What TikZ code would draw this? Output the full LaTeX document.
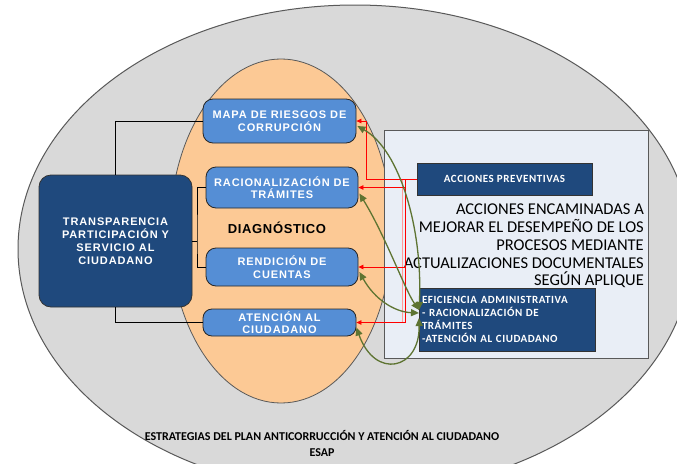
\documentclass[tikz,border=0pt]{standalone}
\usepackage{fontspec}
\setmainfont{Liberation Sans}
\newfontfamily\boxfont[LetterSpace=8]{Liberation Sans}
\newfontfamily\diagfont[LetterSpace=5]{Liberation Sans}
\newfontfamily\calibri[BoldFont={Carlito Bold}]{Carlito}
\newfontfamily\calibrisp[LetterSpace=5,BoldFont={Carlito Bold}]{Carlito}
\usetikzlibrary{arrows.meta,calc}
\definecolor{greyfill}{HTML}{D9D9D9}
\definecolor{greyline}{HTML}{595959}
\definecolor{orangefill}{HTML}{FCC995}
\definecolor{lightblue}{HTML}{558ED5}
\definecolor{darkblue}{HTML}{1F497D}
\definecolor{panel}{HTML}{E9EEF6}
\definecolor{olive}{HTML}{5E7432}
\definecolor{pinkline}{HTML}{FF9A9A}
\tikzset{
  bluebox/.style={draw=black!85, line width=0.8pt, fill=lightblue, rounded corners=10pt,
    minimum width=153pt, align=center, text=white, inner sep=0pt,
    font=\boxfont\bfseries\fontsize{11}{12.5}\selectfont},
  darkbox/.style={draw=black!80, line width=0.8pt, fill=darkblue, text=white, inner sep=0pt},
  blackline/.style={draw=black, line width=1pt},
  redarrow/.style={draw=red, line width=0.8pt, -{Triangle[length=5pt,width=4.5pt]}},
  redline/.style={draw=red, line width=0.8pt},
  greenarrow/.style={draw=olive, line width=1.3pt,
    {Triangle[length=8pt,width=7pt]}-{Triangle[length=8pt,width=7pt]}},
}
\begin{document}
\begin{tikzpicture}[x=1pt,y=-1pt]
\useasboundingbox (0,0) rectangle (677,463);
\fill[white] (0,0) rectangle (677,463);
\begin{scope}
\clip (0,0) rectangle (677,463);
\draw[fill=greyfill, draw=greyline, line width=1pt] (355,249) ellipse [x radius=337, y radius=244];
\end{scope}
\draw[fill=orangefill, draw=greyline, line width=0.8pt] (281,231) ellipse [x radius=111, y radius=172];
\draw[fill=panel, draw=greyline, line width=1pt] (384,130) rectangle (648,358);

% blue boxes
\node[bluebox, minimum height=44pt] (mapa) at (279.5,121) {MAPA DE RIESGOS DE\\CORRUPCIÓN};
\node[bluebox, minimum height=41pt, minimum width=152pt] (racion) at (282,187.5) {RACIONALIZACIÓN DE\\TRÁMITES};
\node[bluebox, minimum height=38pt, minimum width=152pt] (rend) at (282,267) {RENDICIÓN DE\\CUENTAS};
\node[bluebox, minimum height=27pt, rounded corners=9pt] (aten) at (279.5,322.5) {ATENCIÓN AL\\CIUDADANO};

\node[font=\diagfont\bfseries\fontsize{13}{15}\selectfont, inner sep=0pt] (diag) at (277,228) {DIAGNÓSTICO};

\node[darkbox, rounded corners=12pt, minimum width=153pt, minimum height=132pt, align=center,
  font=\boxfont\bfseries\fontsize{11}{13}\selectfont] (trans) at (115.5,241)
  {TRANSPARENCIA\\PARTICIPACIÓN Y\\SERVICIO AL\\CIUDADANO};

% black connectors
\coordinate (j) at (197,241);
\draw[blackline] (trans.north) |- (mapa.west);
\draw[blackline] (trans.south) |- (aten.west);
\draw[blackline] (trans.east) -- (j);
\draw[blackline] (racion.west) -| (j) |- (rend.west);

% right side
\node[darkbox, minimum width=175pt, minimum height=32pt,
  font=\calibrisp\bfseries\fontsize{11}{13}\selectfont] (prev) at (504.5,179) {ACCIONES PREVENTIVAS};

\node[anchor=north east, inner sep=0pt, align=right,
  font=\calibri\fontsize{16.5}{17.7}\selectfont] (txt) at (644,204)
  {ACCIONES ENCAMINADAS A\\MEJORAR EL DESEMPEÑO DE LOS\\PROCESOS MEDIANTE\\ACTUALIZACIONES DOCUMENTALES\\SEGÚN APLIQUE};

\node[darkbox, minimum width=176pt, minimum height=63pt, text width=170pt, align=left,
  font=\calibrisp\bfseries\fontsize{11}{13}\selectfont] (efi) at (507,319.5)
  {EFICIENCIA ADMINISTRATIVA\\- RACIONALIZACIÓN DE\\TRÁMITES\\-ATENCIÓN AL CIUDADANO};

% red connectors
\coordinate (r1) at (366,179);
\coordinate (r2) at (405,179);
\coordinate (p1) at (402,179);
\coordinate (p2) at (402,322);
\draw[pinkline, line width=0.8pt] (p1) -- (p2);
\draw[redline] (prev.west) -- (r1);
\draw[redarrow] (r1) |- (mapa.east);
\draw[redarrow] (r2) |- (racion.east);
\draw[redarrow] (r2) |- (rend.east);
\draw[redarrow] (r2) |- (aten.east);

% green connectors
\coordinate (e1) at (419,310);
\coordinate (e2) at (419,313);
\coordinate (e3) at (419,318);
\draw[greenarrow] ($(mapa.east)+(1,5)$) .. controls (400,150) and (423,230) .. (e1);
\draw[greenarrow] ($(racion.east)+(1,6)$) .. controls (385,235) and (405,290) .. (e1);
\draw[greenarrow] ($(rend.east)+(1,5)$) .. controls (375,300) and (395,312) .. (e2);
\draw[greenarrow] ($(aten.east)+(0,5)$) .. controls (375,380) and (420,370) .. (e3);

% bottom title
\node[align=center, inner sep=0pt, font=\calibri\bfseries\fontsize{12}{16}\selectfont] (title) at (322,443)
  {ESTRATEGIAS DEL PLAN ANTICORRUCCIÓN Y ATENCIÓN AL CIUDADANO\\ESAP};
\end{tikzpicture}
\end{document}
